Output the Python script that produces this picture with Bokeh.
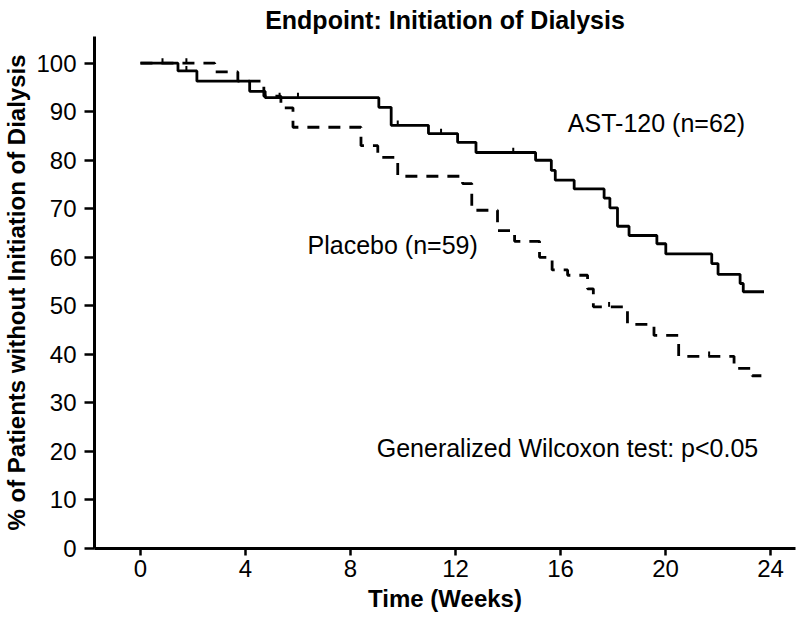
from bokeh.plotting import figure
from bokeh.models import Range1d, FixedTicker, Label
from bokeh.embed import file_html
from bokeh.resources import INLINE

# ---- data ----
ast_t = [0, 1.43, 2.15, 4.16, 4.75, 9.08, 9.55, 10.97, 12.08, 12.78, 15.05, 15.65,
         15.80, 16.52, 17.66, 17.88, 18.17, 18.61, 19.67, 20.01, 21.76, 22.00, 22.84,
         22.96, 23.75]
ast_s = [100, 98.4, 96.3, 94.2, 92.9, 90.9, 87.2, 85.5, 83.7, 81.6, 80.0, 77.9,
         75.9, 74.1, 72.2, 70.2, 66.4, 64.5, 62.8, 60.7, 58.7, 56.5, 54.6,
         52.9, 52.9]
ast_cens_t = [1.75, 5.30, 6.00, 9.80, 11.45, 14.20]
ast_cens_s = [98.4, 92.9, 92.9, 87.2, 85.5, 81.6]

pla_t = [0, 2.83, 3.71, 4.70, 5.35, 5.81, 8.40, 9.04, 9.80, 12.27, 12.62, 13.60,
         14.25, 15.20, 15.68, 16.27, 17.03, 17.25, 18.55, 19.56, 20.50, 22.61,
         23.30, 23.65]
pla_s = [100, 98.2, 96.3, 93.2, 90.8, 86.8, 83.0, 80.6, 76.7, 75.2, 69.7, 65.5,
         63.3, 60.0, 57.4, 56.3, 53.5, 49.8, 46.2, 43.9, 39.6, 37.1,
         35.6, 35.6]
pla_cens_t = [0.84, 1.75, 17.85, 21.66]
pla_cens_s = [100, 100, 49.8, 39.6]

x_ticks = [0, 4, 8, 12, 16, 20, 24]
y_ticks = [0, 10, 20, 30, 40, 50, 60, 70, 80, 90, 100]

title_text = "Endpoint: Initiation of Dialysis"
x_label = "Time (Weeks)"
y_label = "% of Patients without Initiation of Dialysis"
ast_label = "AST-120 (n=62)"
pla_label = "Placebo (n=59)"
test_label = "Generalized Wilcoxon test: p<0.05"

FONT = "Liberation Sans"

p = figure(width=800, height=619,
           x_range=Range1d(-1.75, 24.95), y_range=Range1d(0, 105.5),
           output_backend="svg", toolbar_location=None,
           min_border_left=93, min_border_right=5,
           min_border_top=36, min_border_bottom=71,
           title=title_text)
p.grid.visible = False
p.outline_line_color = None
p.background_fill_color = "white"
p.border_fill_color = "white"

p.title.align = "center"
p.title.text_font = FONT
p.title.text_font_size = "25px"
p.title.text_font_style = "bold"
p.title.text_color = "black"
p.title.standoff = 6
p.title.offset = 0

for ax in (p.xaxis[0], p.yaxis[0]):
    ax.axis_line_width = 3
    ax.axis_line_color = "black"
    ax.major_tick_line_width = 2.5
    ax.major_tick_line_color = "black"
    ax.minor_tick_line_color = None
    ax.major_tick_in = 0
    ax.major_label_text_font = FONT
    ax.major_label_text_font_size = "24px"
    ax.major_label_text_color = "black"
    ax.axis_label_text_font = FONT
    ax.axis_label_text_font_size = "24px"
    ax.axis_label_text_font_style = "bold"
    ax.axis_label_text_color = "black"

p.xaxis.ticker = FixedTicker(ticks=x_ticks)
p.yaxis.ticker = FixedTicker(ticks=y_ticks)
p.xaxis.major_tick_out = 7
p.yaxis.major_tick_out = 10
p.xaxis.major_label_standoff = 4
p.yaxis.major_label_standoff = 8
p.xaxis.axis_label = x_label
p.yaxis.axis_label = y_label
p.xaxis.axis_label_standoff = 5
p.yaxis.axis_label_standoff = 3

# curves
p.step(ast_t, ast_s, mode="after", line_color="black", line_width=2.8)
p.step(pla_t, pla_s, mode="after", line_color="black", line_width=2.8,
       line_dash="12 9")

# censor marks
p.segment(x0=ast_cens_t, y0=ast_cens_s, x1=ast_cens_t,
          y1=[s + 1.0 for s in ast_cens_s], line_color="black", line_width=2)
p.segment(x0=pla_cens_t, y0=pla_cens_s, x1=pla_cens_t,
          y1=[s + 1.0 for s in pla_cens_s], line_color="black", line_width=2)

# annotations
p.add_layout(Label(x=16.28, y=87.6, text=ast_label, text_font=FONT,
                   text_font_size="25px", text_baseline="middle",
                   text_align="left", text_color="black"))
p.add_layout(Label(x=12.85, y=62.5, text=pla_label, text_font=FONT,
                   text_font_size="25px", text_baseline="middle",
                   text_align="right", text_color="black"))
p.add_layout(Label(x=9.0, y=20.7, text=test_label, text_font=FONT,
                   text_font_size="25px", text_baseline="middle",
                   text_align="left", text_color="black"))

open("out.html", "w").write(file_html(p, INLINE))
